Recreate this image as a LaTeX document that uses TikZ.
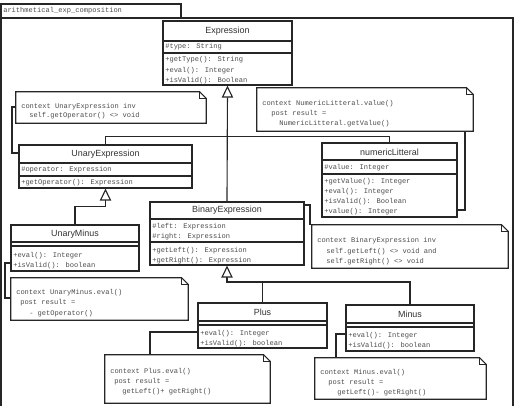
\documentclass[tikz,border=0pt]{standalone}
\usepackage{fontspec}
\setmainfont{Liberation Sans}
\newfontfamily\monof{Liberation Mono}
\usetikzlibrary{arrows.meta,fit}
\newcommand\drawnote[1]{%
  \draw[ln] (#1.north west) -- ([xshift=-5pt]#1.north east) -- ([yshift=-5pt]#1.north east) -- (#1.south east) -- (#1.south west) -- cycle;
  \draw[ln] ([xshift=-5pt]#1.north east) -- ([xshift=-5pt,yshift=-5pt]#1.north east) -- ([yshift=-5pt]#1.north east);}
\begin{document}
\begin{tikzpicture}[x=0.75pt,y=-0.75pt,
  ln/.style={line width=0.85pt, draw=black!85},
  cls/.style={draw=black!85, line width=0.85pt, inner sep=0, fill=white},
  notebox/.style={inner sep=0},
  ttl/.style={font=\fontsize{6.7}{8}\selectfont, text=black!80, inner sep=0},
  mono/.style={font=\monof\fontsize{5.3}{6}\selectfont, text=black!70, anchor=west, inner sep=0},
  gen/.style={ln, -{Triangle[open, length=9pt, width=8.5pt, fill=white]}}]
\useasboundingbox (0,0) rectangle (516,405);
% frame
\node[cls, fill=none, fit={(1,18)(513,420)}] (frame) {};
\node[cls, fill=none, fit={(1,4)(181,18)}] (tab) {};
\node[mono] (tabt) at (3,11) {arithmetical\_exp\_composition};
\coordinate (bj) at (262.5,282);
\coordinate (c1) at (12,153);
\coordinate (c2) at (465,210);
\coordinate (c3) at (310,205);
\coordinate (c4) at (5,263);
\coordinate (c5) at (150,332);
\coordinate (c6) at (336,334);
% classes
\node[cls, fit={(163,21)(292,85)}] (expr) {};
\node[cls, fit={(19,145)(192,188)}] (unary) {};
\node[cls, fit={(322,143)(457,217)}] (numlit) {};
\node[cls, fit={(150,202)(304,265)}] (binary) {};
\node[cls, fit={(11,225)(139,271)}] (uminus) {};
\node[cls, fit={(198,303)(327,348)}] (plus) {};
\node[cls, fit={(346,305)(474,351)}] (minus) {};
% generalizations
\draw[gen] (binary.north) -- (expr.south);
\draw[ln] (unary.north) -- ++(0,-8) -| (numlit.north);
\draw[gen] (uminus.north) -- ++(0,-18) -| (unary.south);
\draw[gen] (plus.north) -- (bj) -| (binary.south);
\draw[ln] (minus.north) |- (bj);
% compartments
\draw[ln] (expr.west |- 0,41) -- (expr.east |- 0,41);
\draw[ln] (expr.west |- 0,53) -- (expr.east |- 0,53);
\draw[ln] (unary.west |- 0,163) -- (unary.east |- 0,163);
\draw[ln] (unary.west |- 0,176) -- (unary.east |- 0,176);
\draw[ln] (numlit.west |- 0,160) -- (numlit.east |- 0,160);
\draw[ln] (numlit.west |- 0,174) -- (numlit.east |- 0,174);
\draw[ln] (binary.west |- 0,219) -- (binary.east |- 0,219);
\draw[ln] (binary.west |- 0,242) -- (binary.east |- 0,242);
\draw[ln] (uminus.west |- 0,242) -- (uminus.east |- 0,242);
\draw[ln] (uminus.west |- 0,246) -- (uminus.east |- 0,246);
\draw[ln] (plus.west |- 0,321) -- (plus.east |- 0,321);
\draw[ln] (plus.west |- 0,325) -- (plus.east |- 0,325);
\draw[ln] (minus.west |- 0,323) -- (minus.east |- 0,323);
\draw[ln] (minus.west |- 0,327) -- (minus.east |- 0,327);
% titles
\node[ttl] (exprt) at (227.5,31) {Expression};
\node[ttl] (unaryt) at (105.5,154) {UnaryExpression};
\node[ttl] (numlitt) at (389.5,152) {numericLitteral};
\node[ttl] (binaryt) at (227,210.5) {BinaryExpression};
\node[ttl] (uminust) at (75,234) {UnaryMinus};
\node[ttl] (plust) at (262.5,312) {Plus};
\node[ttl] (minust) at (410,314) {Minus};
% members
\node[mono] (e1) at (165,47) {\#type: String};
\node[mono] (e2) at (165,60) {+getType(): String};
\node[mono] (e3) at (165,70.5) {+eval(): Integer};
\node[mono] (e4) at (165,80.5) {+isValid(): Boolean};
\node[mono] (u1) at (21,170) {\#operator: Expression};
\node[mono] (u2) at (21,182.5) {+getOperator(): Expression};
\node[mono] (l1) at (324,167.5) {\#value: Integer};
\node[mono] (l2) at (324,182) {+getValue(): Integer};
\node[mono] (l3) at (324,192) {+eval(): Integer};
\node[mono] (l4) at (324,202) {+isValid(): Boolean};
\node[mono] (l5) at (324,212) {+value(): Integer};
\node[mono] (b1) at (152,227) {\#left: Expression};
\node[mono] (b2) at (152,237) {\#right: Expression};
\node[mono] (b3) at (152,250.5) {+getLeft(): Expression};
\node[mono] (b4) at (152,260.5) {+getRight(): Expression};
\node[mono] (m1) at (13,256) {+eval(): Integer};
\node[mono] (m2) at (13,266) {+isValid(): boolean};
\node[mono] (p1) at (200,334) {+eval(): Integer};
\node[mono] (p2) at (200,344) {+isValid(): boolean};
\node[mono] (s1) at (348,336) {+eval(): Integer};
\node[mono] (s2) at (348,346) {+isValid(): boolean};
% notes
\node[notebox, fit={(16,92)(206,123)}] (n1) {};
\node[notebox, fit={(257,88)(473,131)}] (n2) {};
\node[notebox, fit={(312,225)(508,268)}] (n3) {};
\node[notebox, fit={(11,278)(188,320)}] (n4) {};
\node[notebox, fit={(105,355)(270,403)}] (n5) {};
\node[notebox, fit={(315,358)(486,399)}] (n6) {};
\drawnote{n1}\drawnote{n2}\drawnote{n3}\drawnote{n4}\drawnote{n5}\drawnote{n6}
\node[mono] (n1a) at (21,106.5) {context UnaryExpression inv};
\node[mono] (n1b) at (29,116) {self.getOperator() <> void};
\node[mono] (n2a) at (262,104) {context NumericLitteral.value()};
\node[mono] (n2b) at (271,114) {post result =};
\node[mono] (n2c) at (279,124) {NumericLitteral.getValue()};
\node[mono] (n3a) at (317,241) {context BinaryExpression inv};
\node[mono] (n3b) at (326,251.5) {self.getLeft() <> void and};
\node[mono] (n3c) at (326,261.5) {self.getRight() <> void};
\node[mono] (n4a) at (16,293) {context UnaryMinus.eval()};
\node[mono] (n4b) at (20,303) {post result =};
\node[mono] (n4c) at (29,313.5) {- getOperator()};
\node[mono] (n5a) at (110,372) {context Plus.eval()};
\node[mono] (n5b) at (114,382) {post result =};
\node[mono] (n5c) at (122,392) {getLeft()+ getRight()};
\node[mono] (n6a) at (320,373) {context Minus.eval()};
\node[mono] (n6b) at (328,383) {post result =};
\node[mono] (n6c) at (337,393) {getLeft()- getRight()};
% note connectors
\draw[ln] (n1.west |- 0,107) -| (c1) -- (c1 -| unary.west);
\draw[ln] (c2 |- n2.south) -- (c2) -- (c2 -| numlit.east);
\draw[ln] (c3 -| binary.east) -- (c3) -- (c3 |- n3.north);
\draw[ln] (c4 -| uminus.west) -- (c4) |- (n4.west |- 0,298);
\draw[ln] (c5 -| plus.west) -- (c5) -- (c5 |- n5.north);
\draw[ln] (c6 -| minus.west) -- (c6) -- (c6 |- n6.north);
\end{tikzpicture}
\end{document}
